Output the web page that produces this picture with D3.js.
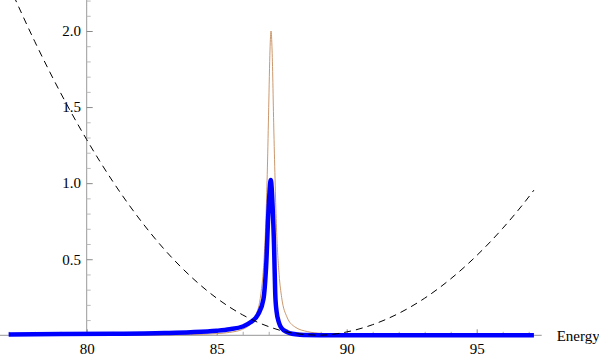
<!DOCTYPE html>
<html>
<head>
<meta charset="utf-8">
<script src="https://cdn.jsdelivr.net/npm/d3@7"></script>
<style>
  body { margin: 0; background: #fff; }
</style>
</head>
<body>
<script>
// values
var orangeX = [77, 80, 82, 84, 85, 85.5, 86, 86.3, 86.5, 86.7, 86.8, 86.9, 86.95, 87.0, 87.05, 87.09,
               87.13, 87.2, 87.3, 87.4, 87.5, 87.7, 88.0, 88.5, 89, 90, 92, 95, 97.2];
var orangeY = [0.0005, 0.001, 0.0019, 0.005, 0.011, 0.019, 0.04, 0.074, 0.129, 0.273, 0.444, 0.799, 1.10, 1.496, 1.875, 2.0,
               1.875, 1.33, 0.706, 0.40, 0.247, 0.121, 0.056, 0.024, 0.013, 0.006, 0.002, 0.0008, 0.0005];

var blueX = [77, 79, 81, 83, 84, 85, 85.5, 86, 86.3, 86.6, 86.8, 86.9, 87.0, 87.08, 87.15, 87.21, 87.25,
             87.3, 87.4, 87.5, 87.7, 87.9, 88.2, 89, 90, 93, 97.2];
var blueY = [0.006, 0.008, 0.010, 0.015, 0.02, 0.03, 0.04, 0.058, 0.085, 0.14, 0.24, 0.45, 0.85, 1.02, 0.85, 0.56, 0.28,
             0.16, 0.08, 0.046, 0.022, 0.01, 0.004, 0.001, 0, 0, 0];

var dashX = [77, 78, 79, 80, 81, 82, 83, 84, 85, 86, 87, 88, 89, 90, 91, 92, 93, 94, 95, 96, 97, 97.2];
var dashY = [2.304, 1.932, 1.592, 1.286, 1.012, 0.771, 0.562, 0.387, 0.244, 0.134, 0.057, 0.012, 0.001,
             0.022, 0.070, 0.144, 0.244, 0.371, 0.524, 0.703, 0.909, 0.954];

var xMajor = [80, 85, 90, 95];
var xMinor = d3.range(77, 98);
var yMajor = [0.5, 1.0, 1.5, 2.0];
var yMinor = d3.range(1, 23).map(function (d) { return d / 10; });

var width = 599, height = 358;
var font = "Times New Roman, Times, Liberation Serif, serif";

var x = d3.scaleLinear().domain([80, 95]).range([86.7, 476.7]);
var y = d3.scaleLinear().domain([0, 2]).range([335.3, 31]);

var svg = d3.select("body").append("svg")
    .attr("width", width)
    .attr("height", height);

// axes lines
svg.append("line")
    .attr("x1", 0).attr("x2", x(97.5))
    .attr("y1", y(0)).attr("y2", y(0))
    .attr("stroke", "#aaa").attr("stroke-width", 1.2);
svg.append("line")
    .attr("x1", x(80)).attr("x2", x(80))
    .attr("y1", 0).attr("y2", y(0))
    .attr("stroke", "#999").attr("stroke-width", 1);

// x ticks
var gx = svg.append("g").attr("transform", "translate(0," + y(0) + ")");
gx.call(d3.axisBottom(x).tickValues(xMinor.filter(function (d) { return xMajor.indexOf(d) < 0; }))
    .tickSize(-3.5).tickFormat(""));
gx.select(".domain").remove();
gx.selectAll("line").attr("stroke", "#aaa");

var gx2 = svg.append("g").attr("transform", "translate(0," + y(0) + ")");
gx2.call(d3.axisBottom(x).tickValues(xMajor).tickSize(-6).tickPadding(8.5).tickFormat(d3.format("d")));
gx2.attr("font-family", font).attr("font-size", 15);
gx2.select(".domain").remove();
gx2.selectAll("line").attr("stroke", "#888");
gx2.selectAll("text").attr("fill", "#000");

// y ticks
var gy = svg.append("g").attr("transform", "translate(" + x(80) + ",0)");
gy.call(d3.axisLeft(y).tickValues(yMinor.filter(function (d) { return d * 2 % 1 !== 0; }))
    .tickSize(-4).tickFormat(""));
gy.select(".domain").remove();
gy.selectAll("line").attr("stroke", "#bbb");

var gy2 = svg.append("g").attr("transform", "translate(" + x(80) + ",0)");
gy2.call(d3.axisLeft(y).tickValues(yMajor).tickSize(-6).tickPadding(5.7).tickFormat(d3.format(".1f")));
gy2.attr("font-family", font).attr("font-size", 15);
gy2.select(".domain").remove();
gy2.selectAll("line").attr("stroke", "#888");
gy2.selectAll("text").attr("fill", "#000");

svg.append("text")
    .attr("x", 556.7)
    .attr("y", y(0) + 5.5)
    .attr("font-family", font)
    .attr("font-size", 15)
    .text("Energy");

function pts(xs, ys) {
    return xs.map(function (d, i) { return [d, ys[i]]; });
}

var line = d3.line()
    .x(function (d) { return x(d[0]); })
    .y(function (d) { return y(d[1]); })
    .curve(d3.curveMonotoneX);

svg.append("path")
    .datum(pts(orangeX, orangeY))
    .attr("d", line)
    .attr("fill", "none")
    .attr("stroke", "#c58c5c")
    .attr("stroke-width", 0.9);

svg.append("path")
    .datum(pts(blueX, blueY))
    .attr("d", line)
    .attr("fill", "none")
    .attr("stroke", "#0000ff")
    .attr("stroke-width", 4.5)
    .attr("stroke-linejoin", "round");

svg.append("path")
    .datum(pts(dashX, dashY))
    .attr("d", line)
    .attr("fill", "none")
    .attr("stroke", "#000")
    .attr("stroke-width", 1)
    .attr("stroke-dasharray", "7,5");
</script>
</body>
</html>
